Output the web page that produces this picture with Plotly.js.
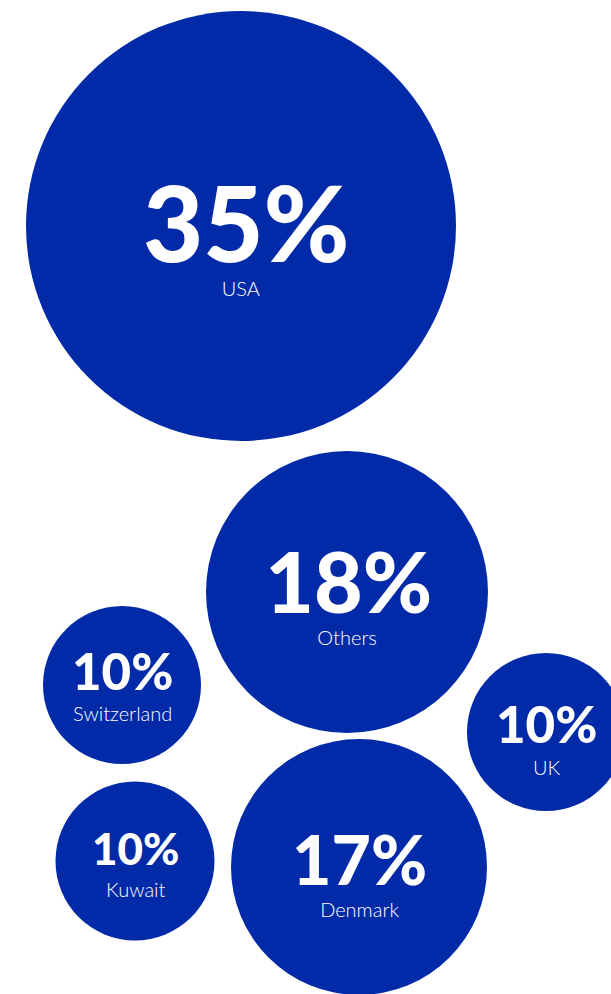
<!DOCTYPE html>
<html>
<head>
<meta charset="utf-8">
<script src="https://cdn.plot.ly/plotly-3.0.1.min.js"></script>
<style>
  html, body { margin: 0; padding: 0; background: #ffffff; }
  #chart { width: 611px; height: 994px; }
</style>
</head>
<body>
<div id="chart"></div>
<script>
// ---- data ----
const countries = ['USA', 'Others', 'Switzerland', 'UK', 'Kuwait', 'Denmark'];
const shares = [35, 18, 10, 10, 10, 17];

// ---- layout (bubble placement, pixel units on a 611x994 canvas) ----
const centerX = [241, 347, 122, 546, 135, 359];
const centerY = [226, 592, 685, 732, 861, 867];
const diameter = [430, 282, 158, 158, 159, 256];
const pctFontSize = [104, 84, 51, 51, 44, 68];
const pctBaseline = [262, 613, 690, 743, 865, 885];   // baseline of the big number
const lineGap = [34, 32, 31, 32, 32, 32];             // baseline-to-baseline distance
const leadPad = [40, 12, 0, 0, 0, 0];                 // small leading pad (px font of nbsp) to nudge number right
const LABEL_SIZE = 20;
const ASC = 0.987, DESC = 0.213;                      // Lato ascent / descent ratios

const BLUE = '#012AA9';

const trace = {
  type: 'scatter',
  mode: 'markers',
  x: centerX,
  y: centerY,
  marker: {
    size: diameter,
    sizemode: 'diameter',
    color: BLUE,
    opacity: 1,
    line: { width: 0 }
  },
  hoverinfo: 'skip',
  showlegend: false
};

const annotations = countries.map((c, i) => {
  const top = pctBaseline[i] - ASC * pctFontSize[i];
  const bottom = pctBaseline[i] + lineGap[i] + DESC * LABEL_SIZE;
  const pad = leadPad[i] > 0 ? '<span style="font-size:' + leadPad[i] + 'px">&nbsp;</span>' : '';
  return {
    x: centerX[i], y: (top + bottom) / 2,
    xref: 'x', yref: 'y',
    text: pad + '<span style="font-size:' + pctFontSize[i] + 'px;font-weight:900">' + shares[i] + '%</span>' +
          '<br><span style="font-size:' + LABEL_SIZE + 'px;font-weight:300">' + c + '</span>',
    showarrow: false,
    align: 'center',
    xanchor: 'center', yanchor: 'middle',
    font: { family: 'Lato, "Noto Sans", sans-serif', size: lineGap[i] / 1.3, color: '#ffffff', weight: 300 }
  };
});

const layout = {
  width: 611,
  height: 994,
  margin: { l: 0, r: 0, t: 0, b: 0, pad: 0 },
  paper_bgcolor: '#ffffff',
  plot_bgcolor: '#ffffff',
  xaxis: { range: [0, 611], visible: false, fixedrange: true },
  yaxis: { range: [994, 0], visible: false, fixedrange: true },
  annotations: annotations,
  showlegend: false
};

Plotly.newPlot('chart', [trace], layout, { staticPlot: true, displayModeBar: false });
</script>
</body>
</html>
